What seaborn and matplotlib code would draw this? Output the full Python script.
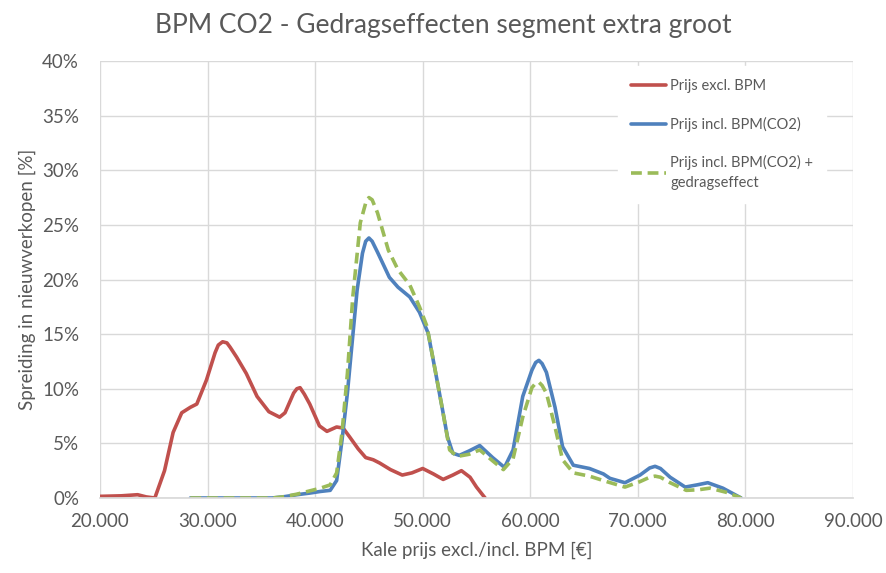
import numpy as np
import pandas as pd
import seaborn as sns
import matplotlib.pyplot as plt
from matplotlib.ticker import FuncFormatter

# values (x in euro, y in %)
excl_x = [20000, 22000, 23500, 24300, 25100, 26000, 26800, 27600, 28400, 29000,
          29900, 30700, 31000, 31400, 31800, 32100, 32700, 33600, 34600, 35700,
          36700, 37200, 37600, 38000, 38300, 38600, 39000, 39500, 40400, 41100,
          42000, 42600, 43200, 44000, 44700, 45400, 46000, 47000, 48100, 49000,
          50000, 51000, 51900, 52800, 53600, 54400, 55000, 55800]
excl_y = [0.15, 0.2, 0.3, 0.1, 0.0, 2.5, 6.0, 7.8, 8.3, 8.6,
          10.8, 13.3, 14.0, 14.3, 14.2, 13.8, 12.9, 11.4, 9.3, 7.9,
          7.4, 7.8, 8.7, 9.6, 10.0, 10.1, 9.5, 8.6, 6.6, 6.1,
          6.5, 6.4, 5.6, 4.5, 3.7, 3.5, 3.2, 2.6, 2.1, 2.3,
          2.7, 2.2, 1.7, 2.1, 2.5, 1.9, 1.0, 0.0]

incl_x = [28400, 30000, 32000, 34000, 36000, 37000, 38300, 39500, 40500, 41400,
          42000, 42500, 43000, 43400, 43900, 44400, 44700, 45000, 45300, 45800,
          46900, 47700, 48800, 49700, 50500, 51100, 51800, 52300, 52800, 53400,
          54300, 55300, 56500, 57600, 58400, 59300, 60150, 60500, 60800, 61100,
          61500, 62300, 63000, 64000, 65500, 66800, 67400, 68800, 70200, 71100,
          71600, 72100, 73000, 74400, 75500, 76500, 77900, 79600]
incl_y = [0.0, 0.0, 0.0, 0.0, 0.0, 0.1, 0.3, 0.45, 0.6, 0.7,
          1.6, 5.3, 9.6, 13.8, 19.0, 22.4, 23.5, 23.8, 23.5, 22.5,
          20.2, 19.3, 18.4, 17.0, 15.1, 12.0, 8.3, 5.6, 4.1, 3.9,
          4.3, 4.8, 3.7, 2.8, 4.4, 9.3, 11.7, 12.4, 12.6, 12.3,
          11.5, 8.3, 4.7, 3.0, 2.7, 2.2, 1.8, 1.4, 2.1, 2.75,
          2.9, 2.7, 1.9, 1.0, 1.2, 1.4, 0.9, 0.0]

gedrag_x = [28400, 30000, 32000, 34000, 36000, 37000, 38300, 39500, 40500, 41400,
            42000, 42500, 43000, 43500, 44200, 44700, 45000, 45300, 45800, 46800,
            47700, 48800, 49700, 50400, 51100, 51800, 52500, 53200, 54300, 55300,
            56500, 57500, 58400, 59300, 60150, 60500, 60800, 61100, 61500, 62300,
            63000, 64000, 65500, 67100, 68800, 70200, 71100, 71600, 72100, 73000,
            74500, 75600, 76700, 78300, 79600]
gedrag_y = [0.0, 0.0, 0.0, 0.0, 0.0, 0.1, 0.35, 0.65, 0.9, 1.2,
            2.3, 6.0, 11.4, 18.4, 25.2, 27.0, 27.5, 27.3, 26.1, 22.7,
            20.9, 19.5, 17.5, 15.7, 12.0, 8.3, 4.4, 3.8, 4.0, 4.4,
            3.4, 2.6, 3.6, 7.4, 10.1, 10.5, 10.6, 10.3, 9.6, 6.5,
            3.5, 2.3, 2.0, 1.5, 1.0, 1.5, 1.9, 2.0, 1.9, 1.4,
            0.7, 0.75, 0.9, 0.5, 0.0]

labels = ["Prijs excl. BPM", "Prijs incl. BPM(CO2)",
          "Prijs incl. BPM(CO2) +\ngedragseffect"]

sns.set_theme(style="whitegrid")
plt.rcParams['font.family'] = ['Lato', 'DejaVu Sans']
grey = "#595959"

fig = plt.figure(figsize=(8.87, 5.73), dpi=100)
ax = fig.add_axes([0.1127, 0.1309, 0.8490, 0.7626])

line_kw = dict(linewidth=2.6, solid_joinstyle="round", dash_joinstyle="round")
sns.lineplot(x=excl_x, y=excl_y, ax=ax, color="#C0504D", label=labels[0], **line_kw)
sns.lineplot(x=incl_x, y=incl_y, ax=ax, color="#4F81BD", label=labels[1], **line_kw)
sns.lineplot(x=gedrag_x, y=gedrag_y, ax=ax, color="#9BBB59",
             linestyle=(0, (3, 1.6)), label=labels[2], **line_kw)

ax.set_xlim(20000, 90000)
ax.set_ylim(0, 40)
ax.set_xticks(np.arange(20000, 90001, 10000))
ax.set_yticks(np.arange(0, 41, 5))
ax.xaxis.set_major_formatter(FuncFormatter(lambda v, p: f"{int(v):,}".replace(",", ".")))
ax.yaxis.set_major_formatter(FuncFormatter(lambda v, p: f"{int(v)}%"))
ax.grid(True, color="#D9D9D9", linewidth=1)
for s in ["top", "right", "left"]:
    ax.spines[s].set_visible(False)
ax.spines["bottom"].set_color("#D9D9D9")
ax.tick_params(axis="both", colors=grey, labelsize=13.5, length=0)
ax.tick_params(axis="x", pad=11)
ax.tick_params(axis="y", pad=15)

ax.set_xlabel("Kale prijs excl./incl. BPM [€]", fontsize=13.5, color=grey, labelpad=8)
ax.set_ylabel("Spreiding in nieuwverkopen [%]", fontsize=13.5, color=grey, labelpad=4)
fig.suptitle("BPM CO2 - Gedragseffecten segment extra groot", fontsize=19,
             color=grey, y=0.978)

leg = ax.legend(loc="upper left", bbox_to_anchor=(0.678, 1.005), frameon=True,
                fontsize=10.5, handlelength=2.4, handletextpad=0.3,
                labelspacing=1.6, borderpad=0.9)
leg.get_frame().set_facecolor("white")
leg.get_frame().set_edgecolor("white")
leg.get_frame().set_alpha(1)
for t in leg.get_texts():
    t.set_color(grey)
    t.set_linespacing(1.5)

fig.savefig("out.png", dpi=100)
